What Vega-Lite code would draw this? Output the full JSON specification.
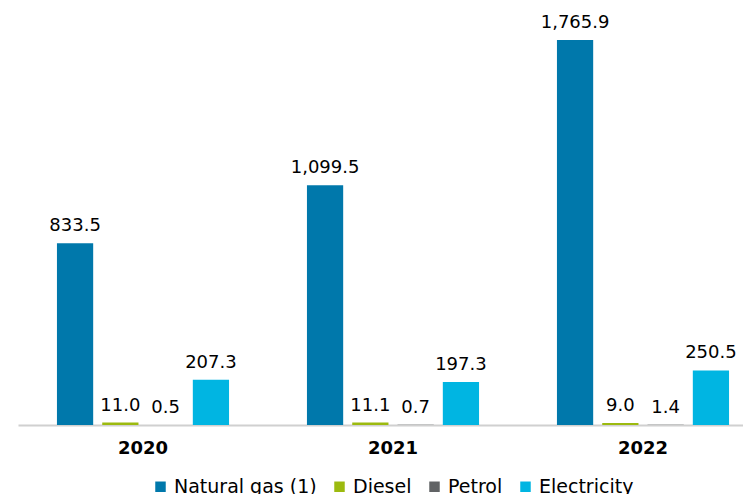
{
  "$schema": "https://vega.github.io/schema/vega-lite/v6.json",
  "autosize": {"type": "none"},
  "width": 725,
  "height": 425,
  "padding": {"left": 18, "top": 0, "right": 0, "bottom": 69},
  "background": "white",
  "config": {
    "view": {"stroke": null},
    "font": "DejaVu Sans"
  },
  "data": {
    "values": [
      {"year": "2020", "fuel": "Natural gas (1)", "order": 1, "value": 833.5},
      {"year": "2020", "fuel": "Diesel", "order": 2, "value": 11.0},
      {"year": "2020", "fuel": "Petrol", "order": 3, "value": 0.5},
      {"year": "2020", "fuel": "Electricity", "order": 4, "value": 207.3},
      {"year": "2021", "fuel": "Natural gas (1)", "order": 1, "value": 1099.5},
      {"year": "2021", "fuel": "Diesel", "order": 2, "value": 11.1},
      {"year": "2021", "fuel": "Petrol", "order": 3, "value": 0.7},
      {"year": "2021", "fuel": "Electricity", "order": 4, "value": 197.3},
      {"year": "2022", "fuel": "Natural gas (1)", "order": 1, "value": 1765.9},
      {"year": "2022", "fuel": "Diesel", "order": 2, "value": 9.0},
      {"year": "2022", "fuel": "Petrol", "order": 3, "value": 1.4},
      {"year": "2022", "fuel": "Electricity", "order": 4, "value": 250.5}
    ]
  },
  "encoding": {
    "x": {
      "field": "year",
      "type": "nominal",
      "scale": {"range": [0, 750], "paddingInner": 0, "paddingOuter": 0},
      "axis": {
        "title": null,
        "labelAngle": 0,
        "labelFont": "DejaVu Sans",
        "labelFontSize": 18,
        "labelFontWeight": "bold",
        "labelColor": "#000000",
        "labelPadding": 14,
        "ticks": false,
        "domainColor": "#d0d0d0",
        "domainWidth": 2,
        "grid": false
      }
    },
    "xOffset": {
      "field": "fuel",
      "type": "nominal",
      "sort": ["Natural gas (1)", "Diesel", "Petrol", "Electricity"],
      "scale": {"paddingInner": 0.2, "paddingOuter": 0.86}
    },
    "y": {
      "field": "value",
      "type": "quantitative",
      "scale": {"domain": [0, 1949]},
      "axis": null
    }
  },
  "layer": [
    {
      "mark": {"type": "bar", "clip": false},
      "encoding": {
        "color": {
          "field": "fuel",
          "type": "nominal",
          "sort": ["Natural gas (1)", "Diesel", "Petrol", "Electricity"],
          "scale": {
            "domain": ["Natural gas (1)", "Diesel", "Petrol", "Electricity"],
            "range": ["#0078AB", "#9CBA0F", "#616365", "#00B5E2"]
          },
          "legend": {
            "title": null,
            "orient": "none",
            "direction": "horizontal",
            "legendX": 133,
            "legendY": 477,
            "symbolType": "square",
            "symbolSize": 110,
            "symbolStrokeWidth": 0,
            "labelFont": "DejaVu Sans",
            "labelFontSize": 19,
            "labelColor": "#000000",
            "labelOffset": 4,
            "columnPadding": 13
          }
        }
      }
    },
    {
      "mark": {
        "type": "text",
        "baseline": "alphabetic",
        "dy": -12,
        "fontSize": 18,
        "color": "#000000",
        "font": "DejaVu Sans"
      },
      "encoding": {
        "text": {"field": "value", "type": "quantitative", "format": ",.1f"}
      }
    }
  ]
}
